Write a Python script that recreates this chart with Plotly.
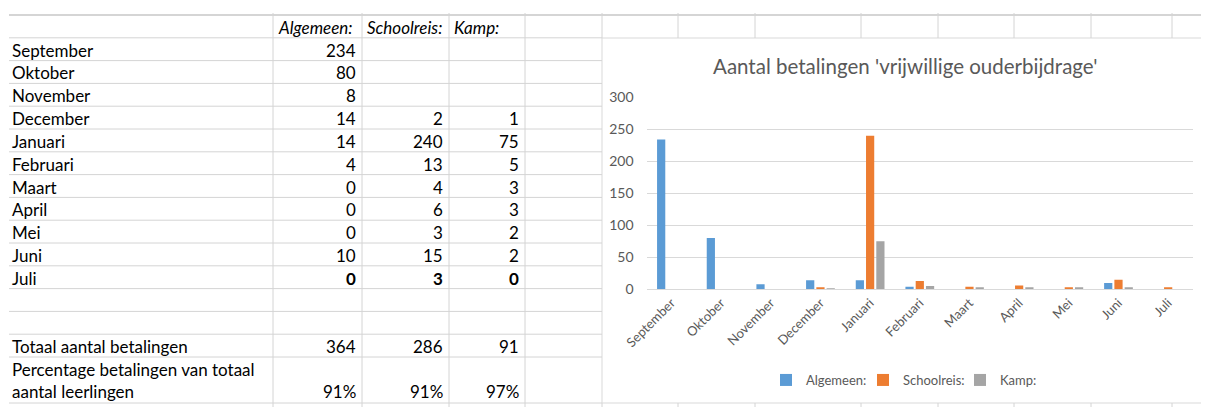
import plotly.graph_objects as go

# ---------------- data ----------------
months = ["September", "Oktober", "November", "December", "Januari", "Februari",
          "Maart", "April", "Mei", "Juni", "Juli"]
series_names = ["Algemeen:", "Schoolreis:", "Kamp:"]
algemeen = [234, 80, 8, 14, 14, 4, 0, 0, 0, 10, 0]
schoolreis = [None, None, None, 2, 240, 13, 4, 6, 3, 15, 3]
kamp = [None, None, None, 1, 75, 5, 3, 3, 2, 2, 0]
totals = [364, 286, 91]
percentages = ["91%", "91%", "97%"]
total_label = "Totaal aantal betalingen"
pct_label = ["Percentage betalingen van totaal", "aantal leerlingen"]
chart_title = "Aantal betalingen 'vrijwillige ouderbijdrage'"
y_ticks = [0, 50, 100, 150, 200, 250, 300]
colors = ["#5B9BD5", "#ED7D31", "#A5A5A5"]

# ---------------- geometry (pixels in the final page) ----------------
PAGE_W, PAGE_H = 1209, 407
OFF = 8                       # default page body margin
W, H = PAGE_W - OFF, PAGE_H - OFF
def px(x):
    return (x - OFF) / W
def py(y):
    return 1 - (y - OFF) / H

FONT = "Lato"
TFS = 17
GRID = "#D4D4D4"
TXT = "#595959"

sheet_left = 9
top_line = 15
row_h = 22.8
col_edges = [273, 362, 449, 525, 602]
chart_left, chart_top, chart_bottom = 602, 38, 403
upper_cols = [678, 755, 861, 938, 1014, 1091, 1172]

n_rows = 1 + len(months) + 2 + 1   # header, months, 2 empty, totals
row_lines = [top_line + i * row_h for i in range(n_rows + 1)]
row_lines.append(chart_bottom)

shapes = []
# sheet top line
shapes.append(dict(type="line", xref="paper", yref="paper", x0=px(sheet_left), x1=1,
                   y0=py(top_line), y1=py(top_line), line=dict(color="#ABABAB", width=1)))
# table horizontal lines
for y in row_lines[1:]:
    shapes.append(dict(type="line", xref="paper", yref="paper", x0=px(sheet_left), x1=px(chart_left),
                       y0=py(y), y1=py(y), line=dict(color=GRID, width=1)))
# table vertical lines
for x in col_edges[:-1]:
    shapes.append(dict(type="line", xref="paper", yref="paper", x0=px(x), x1=px(x),
                       y0=py(13), y1=0, line=dict(color=GRID, width=1)))
# vertical lines above / below chart
for x in [chart_left] + upper_cols:
    shapes.append(dict(type="line", xref="paper", yref="paper", x0=px(x), x1=px(x),
                       y0=py(13), y1=py(chart_top), line=dict(color=GRID, width=1)))
    shapes.append(dict(type="line", xref="paper", yref="paper", x0=px(x), x1=px(x),
                       y0=py(chart_bottom), y1=0, line=dict(color=GRID, width=1)))
# chart box
shapes.append(dict(type="rect", xref="paper", yref="paper", x0=px(chart_left), x1=1,
                   y0=py(chart_bottom), y1=py(chart_top), fillcolor="white",
                   line=dict(color="#D9D9D9", width=1), layer="below"))

ann = []
def cell_text(text, x, y, align="left", bold=False, italic=False, color="#000000"):
    t = str(text)
    if bold:
        t = "<b>" + t + "</b>"
    if italic:
        t = "<i>" + t + "</i>"
    ann.append(dict(text=t, x=px(x), y=py(y), xref="paper", yref="paper", showarrow=False,
                    xanchor="left" if align == "left" else "right", yanchor="middle",
                    font=dict(family=FONT, size=TFS, color=color)))

# header
for j, name in enumerate(series_names):
    cell_text(name, col_edges[j] + 3, top_line + row_h / 2 + 1, italic=True)
# month rows
cols_data = [algemeen, schoolreis, kamp]
for i, m in enumerate(months):
    yc = top_line + (i + 1) * row_h + row_h / 2 + 1
    cell_text(m, sheet_left + 1, yc)
    last = (i == len(months) - 1)
    for j, col in enumerate(cols_data):
        v = col[i]
        if v is not None:
            cell_text(v, col_edges[j + 1] - 4, yc, align="right", bold=last)
# totals
yt = top_line + (len(months) + 3) * row_h + row_h / 2 + 1
cell_text(total_label, sheet_left + 1, yt)
for j, v in enumerate(totals):
    cell_text(v, col_edges[j + 1] - 4, yt, align="right")
# percentages (two-line tall row)
yp1 = row_lines[-2] + 12
yp2 = row_lines[-2] + 34
cell_text(pct_label[0], sheet_left + 1, yp1)
cell_text(pct_label[1], sheet_left + 1, yp2)
for j, v in enumerate(percentages):
    cell_text(v, col_edges[j + 1] - 4, yp2, align="right")

# chart title
ann.append(dict(text=chart_title, x=px(905), y=py(66), xref="paper", yref="paper",
                showarrow=False, xanchor="center", yanchor="middle",
                font=dict(family=FONT, size=20.5, color=TXT)))

fig = go.Figure()
for name, vals, c in zip(series_names, cols_data, colors):
    fig.add_trace(go.Bar(x=months, y=vals, name=name, marker=dict(color=c, line=dict(width=0))))

fig.update_layout(
    width=W, height=H, margin=dict(l=0, r=0, t=0, b=0, pad=0, autoexpand=False),
    paper_bgcolor="white", plot_bgcolor="rgba(0,0,0,0)",
    barmode="group", bargap=0.38, bargroupgap=0.2,
    shapes=shapes, annotations=ann,
    font=dict(family=FONT, color=TXT),
    legend=dict(orientation="h", x=px(766), xanchor="left", y=py(380), yanchor="middle",
                font=dict(family=FONT, size=13, color=TXT), itemwidth=30,
                entrywidth=52, entrywidthmode="pixels",
                bgcolor="rgba(0,0,0,0)", traceorder="normal"),
    xaxis=dict(domain=[px(646.6), px(1193)], tickangle=-45, showgrid=False, automargin=False,
               showline=True, linecolor="#D9D9D9", linewidth=1, ticks="",
               tickfont=dict(family=FONT, size=13, color=TXT)),
    yaxis=dict(domain=[py(289.3), py(97.3)], range=[0, 300], tickvals=y_ticks, automargin=False,
               showgrid=True, gridcolor="#D9D9D9", gridwidth=1, zeroline=False,
               ticks="", ticklabelstandoff=12, showline=False,
               tickfont=dict(family=FONT, size=14, color=TXT)),
)

fig.write_html("out.html")
